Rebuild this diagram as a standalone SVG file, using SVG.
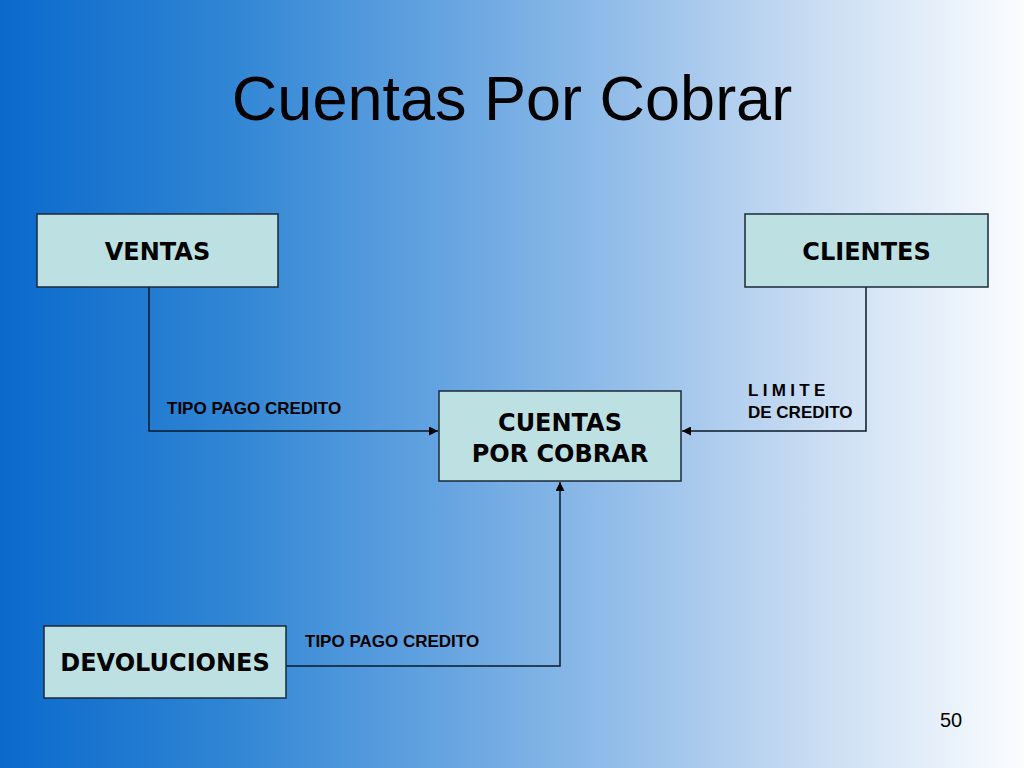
<svg xmlns="http://www.w3.org/2000/svg" width="1024" height="768" viewBox="0 0 1024 768">
<defs>
<linearGradient id="bg" x1="0" y1="0" x2="1" y2="0">
<stop offset="0" stop-color="#0a69cc"/>
<stop offset="0.22" stop-color="#2f85d4"/>
<stop offset="0.42" stop-color="#62a2e0"/>
<stop offset="0.6" stop-color="#92bde9"/>
<stop offset="0.78" stop-color="#c5daf2"/>
<stop offset="1" stop-color="#fbfdff"/>
</linearGradient>
<marker id="arr" viewBox="0 0 10 10" refX="10" refY="5" markerWidth="10" markerHeight="9" markerUnits="userSpaceOnUse" orient="auto">
<path d="M0,0 L10,5 L0,10 z" fill="#000"/>
</marker>
<style>
.box{fill:#bde0e2;stroke:#1b2838;stroke-width:1.5}
.bl{font-family:"DejaVu Sans",Verdana,sans-serif;font-weight:bold;font-size:24px;fill:#000;text-anchor:middle}
.lbl{font-family:"Liberation Sans",Arial,sans-serif;font-weight:bold;font-size:17px;fill:#000}
.con{fill:none;stroke:#0a1a2a;stroke-width:1.5}
</style>
</defs>
<rect x="0" y="0" width="1024" height="768" fill="url(#bg)"/>
<text x="512" y="120" font-family="Liberation Sans,Arial,sans-serif" font-size="63" text-anchor="middle" fill="#000">Cuentas Por Cobrar</text>
<g id="connectors">
<polyline class="con" points="149,287 149,431 438,431" marker-end="url(#arr)"/>
<polyline class="con" points="866,287 866,431 682,431" marker-end="url(#arr)"/>
<polyline class="con" points="286,666 560,666 560,482" marker-end="url(#arr)"/>
<text class="lbl" x="167" y="414">TIPO PAGO CREDITO</text>
<text class="lbl" x="748" y="396" letter-spacing="4.3">LIMITE</text>
<text class="lbl" x="748" y="418">DE CREDITO</text>
<text class="lbl" x="305" y="647">TIPO PAGO CREDITO</text>
</g>
<g id="ventas">
<rect class="box" x="37" y="214" width="241" height="73"/>
<text class="bl" x="157.5" y="260">VENTAS</text>
</g>
<g id="clientes">
<rect class="box" x="745" y="214" width="243" height="73"/>
<text class="bl" x="866.5" y="260">CLIENTES</text>
</g>
<g id="cuentas">
<rect class="box" x="439" y="391" width="242" height="90"/>
<text class="bl" x="560" y="431">CUENTAS</text>
<text class="bl" x="560" y="462">POR COBRAR</text>
</g>
<g id="devoluciones">
<rect class="box" x="44" y="626" width="242" height="72"/>
<text class="bl" x="165" y="671">DEVOLUCIONES</text>
</g>
<text x="951" y="727" font-family="Liberation Sans,Arial,sans-serif" font-size="20" text-anchor="middle" fill="#000">50</text>
</svg>
